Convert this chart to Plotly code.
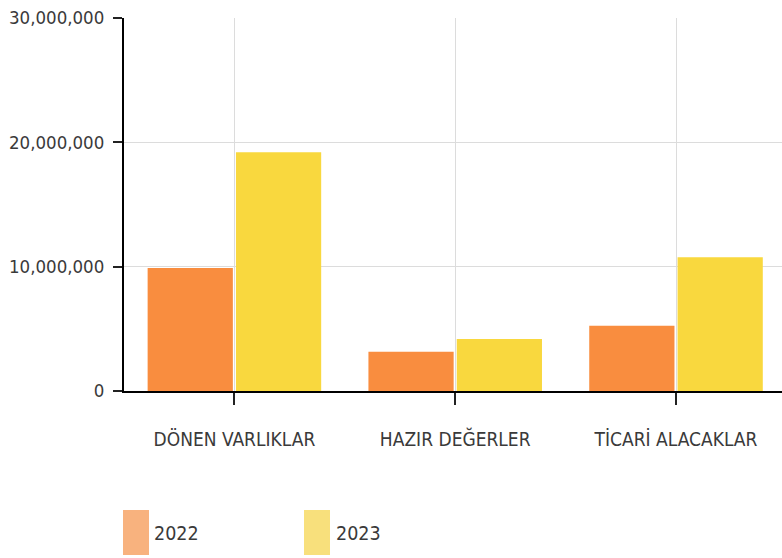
import plotly.graph_objects as go

# Balance-sheet items and yearly values (TL)
categories = ["DÖNEN VARLIKLAR", "HAZIR DEĞERLER", "TİCARİ ALACAKLAR"]
years = ["2022", "2023"]
values_2022 = [9_900_000, 3_150_000, 5_250_000]
values_2023 = [19_200_000, 4_180_000, 10_750_000]
y_ticks = [0, 10_000_000, 20_000_000, 30_000_000]

bar_colors = ["#F98D3F", "#F9D83E"]
swatch_colors = ["#F8B27E", "#F8E07C"]
font_family = "DejaVu Sans Condensed, Liberation Sans Narrow, DejaVu Sans"
text_color = "#3a3a3a"

W, H = 782, 558
L, R, T, B = 124, 0, 18, 167

fig = go.Figure()
for name, vals, col in zip(years, [values_2022, values_2023], bar_colors):
    fig.add_trace(go.Bar(
        x=categories, y=vals, name=name,
        marker=dict(color=col, line=dict(width=0)),
        showlegend=False,
        hovertemplate="%{x}<br>" + name + ": %{y:,}<extra></extra>",
    ))

# Legend drawn below the chart: tall swatches with year labels
plot_w = W - L - R
plot_h = H - T - B

def px_x(px):
    return (px - L) / plot_w

def px_y(py):
    return (H - B - py) / plot_h

legend_items = [(123, 149, 152), (304, 330, 334)]
for (x0, x1, tx), name, col in zip(legend_items, years, swatch_colors):
    fig.add_shape(type="rect", xref="paper", yref="paper",
                  x0=px_x(x0), x1=px_x(x1), y0=px_y(555), y1=px_y(510),
                  fillcolor=col, line=dict(width=0), layer="above")
    fig.add_annotation(xref="paper", yref="paper", x=px_x(tx), y=px_y(533),
                       xanchor="left", yanchor="middle", text=name, showarrow=False,
                       font=dict(family=font_family, size=19.5, color=text_color))

fig.update_layout(
    width=W, height=H,
    margin=dict(l=L, r=R, t=T, b=B, pad=0, autoexpand=False),
    paper_bgcolor="white", plot_bgcolor="white",
    barmode="group", bargap=0.2, bargroupgap=0.035,
    font=dict(family=font_family, color=text_color),
)
fig.update_xaxes(
    range=[-0.5, 2.48],
    showline=True, linecolor="black", linewidth=2,
    showgrid=True, gridcolor="#dcdcdc", gridwidth=1,
    ticks="outside", ticklen=12, tickcolor="#222", tickwidth=1.5,
    tickfont=dict(family=font_family, size=19, color=text_color),
    ticklabelstandoff=18, automargin=False,
    fixedrange=True,
)
fig.update_yaxes(
    range=[0, 30_000_000],
    tickvals=y_ticks, tickformat=",d",
    showline=True, linecolor="black", linewidth=2,
    showgrid=True, gridcolor="#dcdcdc", gridwidth=1,
    zeroline=False,
    ticks="outside", ticklen=9, tickcolor="#222", tickwidth=2,
    tickfont=dict(family=font_family, size=18.5, color=text_color),
    ticklabelstandoff=5, automargin=False,
    fixedrange=True,
)

fig.write_html("out.html")
